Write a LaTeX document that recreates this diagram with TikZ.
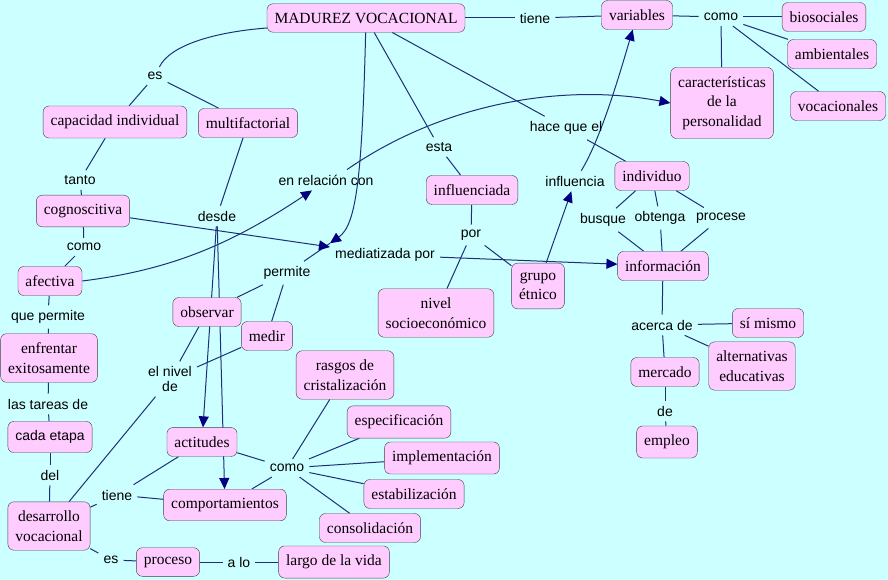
\documentclass[tikz,border=0pt]{standalone}
\usepackage{fontspec}
\setmainfont{Liberation Serif}
\setsansfont{Liberation Sans}
\usetikzlibrary{arrows.meta,backgrounds}
\definecolor{fondo}{RGB}{204,255,255}
\definecolor{rosa}{RGB}{255,204,255}
\definecolor{azullinea}{RGB}{30,48,120}
\definecolor{flecha}{RGB}{0,0,128}

\begin{document}
\begin{tikzpicture}[x=1pt, y=-1pt, >={Triangle[length=11pt,width=10pt,color=flecha]},
    concepto/.style={draw=black!75, fill=rosa, rounded corners=6pt, align=center,
      inner xsep=7.5pt, inner ysep=9pt, font=\fontsize{15.5}{19.5}\selectfont},
    enlace/.style={inner sep=5pt, align=center, font=\sffamily\fontsize{14}{14.5}\selectfont},
    conector/.style={draw=azullinea, line width=1pt}]
  \useasboundingbox (0,0) rectangle (888,580);

  % conceptos
  \node[concepto] (madurez) at (366,18) {MADUREZ VOCACIONAL};
  \node[concepto] (variables) at (637,15) {variables};
  \node[concepto] (biosociales) at (824,17) {biosociales};
  \node[concepto] (ambientales) at (832,54) {ambientales};
  \node[concepto] (caracteristicas) at (722,103) {características\\de la\\personalidad};
  \node[concepto] (vocacionales) at (838,106) {vocacionales};
  \node[concepto] (capacidad) at (115,122) {capacidad individual};
  \node[concepto] (multifactorial) at (248,123) {multifactorial};
  \node[concepto] (cognoscitiva) at (83,211) {cognoscitiva};
  \node[concepto] (afectiva) at (50,281) {afectiva};
  \node[concepto] (enfrentar) at (49,358) {enfrentar\\exitosamente};
  \node[concepto, font=\sffamily\fontsize{14}{16}\selectfont] (etapa) at (50,437) {cada etapa};
  \node[concepto] (desarrollo) at (49,526) {desarrollo\\vocacional};
  \node[concepto] (proceso) at (168,562) {proceso};
  \node[concepto] (vida) at (334,562) {largo de la vida};
  \node[concepto] (observar) at (207,312) {observar};
  \node[concepto] (medir) at (267,336) {medir};
  \node[concepto] (actitudes) at (202,442) {actitudes};
  \node[concepto] (comportamientos) at (225,505) {comportamientos};
  \node[concepto] (rasgos) at (345,375) {rasgos de\\cristalización};
  \node[concepto] (especificacion) at (399,422) {especificación};
  \node[concepto] (implementacion) at (442,458) {implementación};
  \node[concepto] (estabilizacion) at (414,494) {estabilización};
  \node[concepto] (consolidacion) at (370,528) {consolidación};
  \node[concepto] (influenciada) at (472,190) {influenciada};
  \node[concepto] (socioeconomico) at (436,313) {nivel\\socioeconómico};
  \node[concepto] (grupo) at (538,286) {grupo\\étnico};
  \node[concepto] (individuo) at (652,176) {individuo};
  \node[concepto] (informacion) at (663,266) {información};
  \node[concepto] (simismo) at (768,323) {sí mismo};
  \node[concepto] (alternativas) at (752,366) {alternativas\\educativas};
  \node[concepto] (mercado) at (665,372) {mercado};
  \node[concepto] (empleo) at (667,442) {empleo};

  % frases de enlace
  \node[enlace] (tiene) at (535,18) {tiene};
  \node[enlace] (como) at (721,17) {como};
  \node[enlace] (es) at (155,76) {es};
  \node[enlace] (tanto) at (80,180) {tanto};
  \node[enlace] (comoafe) at (84,247) {como};
  \node[enlace] (quepermite) at (48,317) {que permite};
  \node[enlace] (tareas) at (48,404) {las tareas de};
  \node[enlace] (del) at (50,475) {del};
  \node[enlace] (tienedes) at (117,495) {tiene};
  \node[enlace] (esdes) at (111,560) {es};
  \node[enlace] (alo) at (239,562) {a lo};
  \node[enlace] (desde) at (217,216) {desde};
  \node[enlace] (enrelacion) at (326,180) {en relación con};
  \node[enlace] (mediatizada) at (385,255) {mediatizada por};
  \node[enlace] (permite) at (287,273) {permite};
  \node[enlace] (elnivel) at (170,379) {el nivel\\de};
  \node[enlace] (comoact) at (287,468) {como};
  \node[enlace] (esta) at (439,147) {esta};
  \node[enlace] (por) at (471,235) {por};
  \node[enlace] (haceque) at (566,128) {hace que el};
  \node[enlace] (influencia) at (575,181) {influencia};
  \node[enlace] (busque) at (603,220) {busque};
  \node[enlace] (obtenga) at (660,218) {obtenga};
  \node[enlace] (procese) at (721,218) {procese};
  \node[enlace] (acerca) at (662,325) {acerca de};
  \node[enlace] (de) at (665,411) {de};

  \begin{scope}[on background layer]
    \fill[fondo] (0,0) rectangle (888,580);
    \foreach \a/\b in {madurez/tiene, tiene/variables, variables/como, como/biosociales,
        como/ambientales, como/caracteristicas, como/vocacionales, es/capacidad,
        es/multifactorial, capacidad/tanto, tanto/cognoscitiva, cognoscitiva/comoafe,
        comoafe/afectiva, afectiva/quepermite, quepermite/enfrentar, enfrentar/tareas,
        tareas/etapa, etapa/del, del/desarrollo, desarrollo/tienedes, tienedes/actitudes,
        tienedes/comportamientos, desarrollo/esdes, esdes/proceso, proceso/alo, alo/vida,
        desarrollo/elnivel, elnivel/observar, elnivel/medir, multifactorial/desde,
        permite/observar, permite/medir, actitudes/comoact, comportamientos/comoact,
        comoact/rasgos, comoact/especificacion, comoact/implementacion,
        comoact/estabilizacion, comoact/consolidacion, madurez/esta, esta/influenciada,
        influenciada/por, por/socioeconomico, por/grupo, madurez/haceque,
        haceque/individuo, individuo/busque, individuo/obtenga, individuo/procese,
        busque/informacion, obtenga/informacion, procese/informacion,
        informacion/acerca, acerca/simismo, acerca/alternativas, acerca/mercado,
        mercado/de, de/empleo}
      \draw[conector] (\a) -- (\b);
    \draw[conector] (permite) -- (mediatizada.north west);
    \draw[conector] ([yshift=-10pt]madurez.west) .. controls (215,32) and (170,45) .. (es);
    % flechas
    \draw[conector, ->] (desde) -- (actitudes);
    \draw[conector, ->] (desde) -- (comportamientos);
    \draw[conector, ->] (cognoscitiva) -- (mediatizada);
    \draw[conector, ->] (mediatizada) -- (informacion);
    \draw[conector, ->] (grupo) -- (influencia);
    \draw[conector, ->] (afectiva.east) .. controls (170,270) and (230,245) .. ([xshift=-14pt]enrelacion.south);
    \draw[conector, ->] ([xshift=21pt]enrelacion.north) .. controls (440,105) and (560,82) .. (caracteristicas.west);
    \draw[conector, ->] (madurez) .. controls (362,180) and (356,225) .. (mediatizada.north west);
    \draw[conector, ->] (influencia) .. controls (600,140) and (618,80) .. (variables);
  \end{scope}
\end{tikzpicture}
\end{document}
